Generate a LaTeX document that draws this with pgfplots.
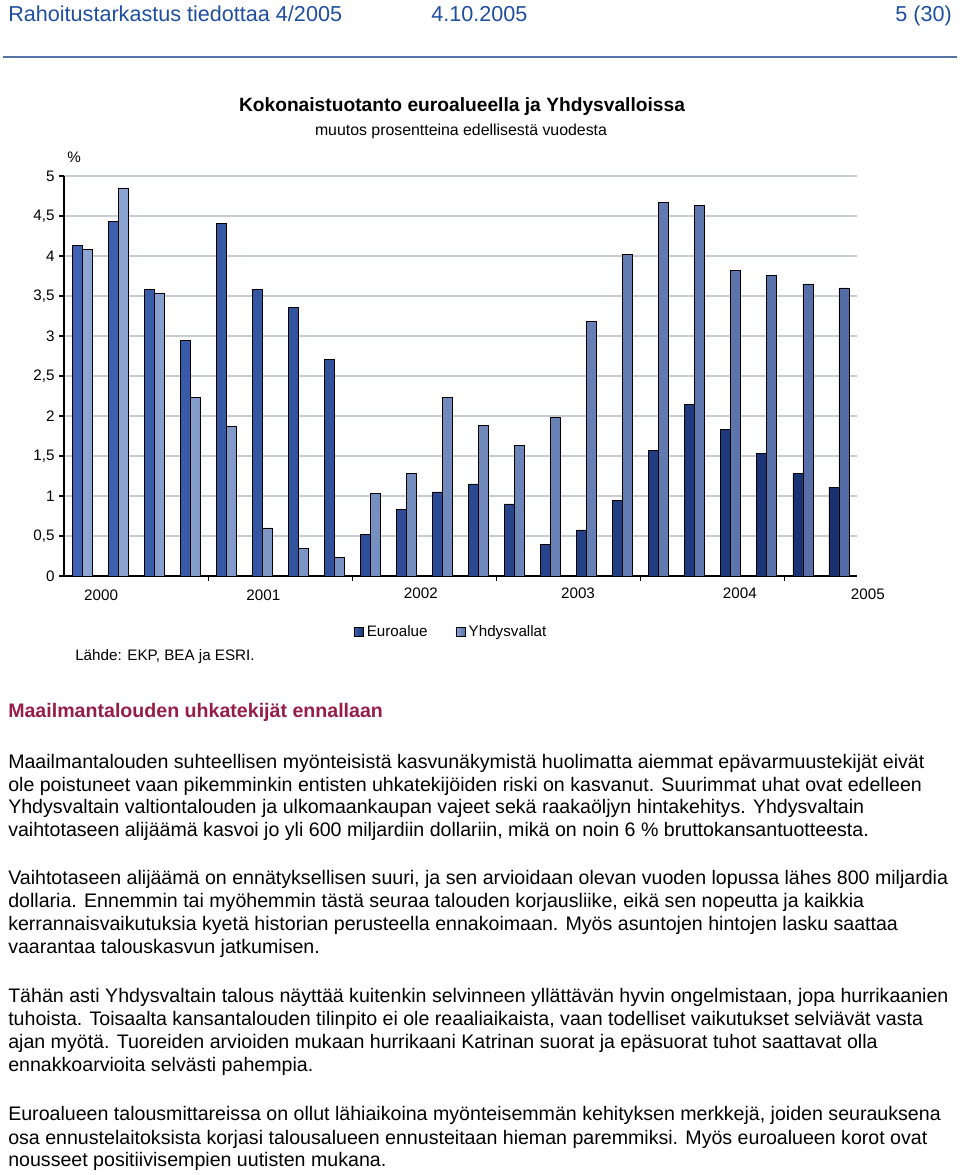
\documentclass[border=0pt]{standalone}
\usepackage{pgfplots}
\pgfplotsset{compat=1.18}
\usepackage{fontspec}
\setmainfont{Liberation Sans}
\definecolor{hdrblue}{RGB}{31,78,160}
\definecolor{rulec}{RGB}{90,115,165}
\definecolor{headred}{RGB}{150,30,70}
\definecolor{euroL}{RGB}{62,98,178}
\definecolor{euroR}{RGB}{24,48,112}
\definecolor{usL}{RGB}{140,165,210}
\definecolor{usR}{RGB}{84,108,165}
\definecolor{gridc}{RGB}{200,205,212}
\newcommand\bodyfont{\fontsize{14.7pt}{17pt}\selectfont}
\newcommand\chartfont{\fontsize{11.4pt}{13pt}\selectfont}
\begin{document}
\begin{tikzpicture}
\useasboundingbox (0,0) rectangle (720pt,881.25pt);
\begin{axis}[
  at={(48pt,449.25pt)}, anchor=south west,
  scale only axis, width=594.75pt, height=300pt,
  xmin=0, xmax=22, ymin=0, ymax=5,
  ybar=0pt, bar width=7.5pt,
  axis x line*=bottom, axis y line*=left,
  axis line style={-, black, line width=0.8pt},
  ytick={0,0.5,...,5},
  xtick={4,8,12,16,20}, xticklabels={},
  tick align=outside, major tick length=3.5pt,
  tick style={black, line width=0.8pt},
  ymajorgrids, grid style={gridc, line width=0.9pt},
  yticklabel style={font=\chartfont, /pgf/number format/.cd, use comma, fixed, assume math mode=true},
  clip=false,
  legend image code/.code={\draw[#1,/tikz/.cd,line width=0.6pt] (0pt,-3.6pt) rectangle (7.2pt,3.6pt);},
  legend style={at={(0.3650,-0.14)}, anchor=west, draw=none, fill=none, inner sep=0pt,
    legend columns=2, font=\chartfont, /tikz/every even column/.append style={column sep=19pt}},
  legend cell align=left,
]
\addplot[draw=black, line width=0.6pt, left color=euroL, right color=euroR] coordinates {
(0.5,4.13) (1.5,4.43) (2.5,3.58) (3.5,2.94) (4.5,4.41) (5.5,3.58) (6.5,3.36) (7.5,2.71)
(8.5,0.52) (9.5,0.83) (10.5,1.05) (11.5,1.15) (12.5,0.90) (13.5,0.39) (14.5,0.575) (15.5,0.94)
(16.5,1.57) (17.5,2.14) (18.5,1.83) (19.5,1.53) (20.5,1.28) (21.5,1.11)};
\addplot[draw=black, line width=0.6pt, left color=usL, right color=usR] coordinates {
(0.5,4.08) (1.5,4.85) (2.5,3.53) (3.5,2.23) (4.5,1.87) (5.5,0.60) (6.5,0.35) (7.5,0.23)
(8.5,1.03) (9.5,1.28) (10.5,2.23) (11.5,1.88) (12.5,1.63) (13.5,1.98) (14.5,3.18) (15.5,4.02)
(16.5,4.67) (17.5,4.63) (18.5,3.82) (19.5,3.76) (20.5,3.65) (21.5,3.60)};
\legend{Euroalue, Yhdysvallat}
\node[font=\chartfont] at (axis cs:1.03,0) [yshift=-14.5pt] {2000};
\node[font=\chartfont] at (axis cs:5.53,0) [yshift=-14.5pt] {2001};
\node[font=\chartfont] at (axis cs:9.90,0) [yshift=-13pt] {2002};
\node[font=\chartfont] at (axis cs:14.26,0) [yshift=-13pt] {2003};
\node[font=\chartfont] at (axis cs:18.75,0) [yshift=-13pt] {2004};
\node[font=\chartfont] at (axis cs:22.30,0) [yshift=-13.5pt] {2005};
\end{axis}
\begin{scope}[shift={(0pt,881.25pt)}, x=0.75pt, y=-0.75pt]
% header
\node[anchor=base west, inner sep=0pt, text=hdrblue, font=\fontsize{16.2pt}{18pt}\selectfont] at (8,22) {Rahoitustarkastus tiedottaa 4/2005};
\node[anchor=base west, inner sep=0pt, text=hdrblue, font=\fontsize{16.2pt}{18pt}\selectfont] at (431,22) {4.10.2005};
\node[anchor=base east, inner sep=0pt, text=hdrblue, font=\fontsize{16.2pt}{18pt}\selectfont] at (952,22) {5 (30)};
\draw[rulec, line width=1pt] (3,57) -- (957,57);
% chart titles
\node[anchor=base, inner sep=0pt, font=\bfseries\fontsize{14.4pt}{16pt}\selectfont] at (462,112) {Kokonaistuotanto euroalueella ja Yhdysvalloissa};
\node[anchor=base, inner sep=0pt, font=\fontsize{11.9pt}{13pt}\selectfont] at (461,136) {muutos prosentteina edellisestä vuodesta};
\node[anchor=base west, inner sep=0pt, font=\chartfont] at (67,163) {\%};
\node[anchor=base west, inner sep=0pt, font=\chartfont] at (75,661) {Lähde: EKP, BEA ja ESRI.};
% heading
\node[anchor=base west, inner sep=0pt, text=headred, font=\bfseries\bodyfont] at (8,718) {Maailmantalouden uhkatekijät ennallaan};
% body
\begin{scope}[every node/.style={anchor=base west, inner sep=0pt, font=\bodyfont}]
\node at (8,769) {Maailmantalouden suhteellisen myönteisistä kasvunäkymistä huolimatta aiemmat epävarmuustekijät eivät};
\node at (8,792) {ole poistuneet vaan pikemminkin entisten uhkatekijöiden riski on kasvanut. Suurimmat uhat ovat edelleen};
\node at (8,814) {Yhdysvaltain valtiontalouden ja ulkomaankaupan vajeet sekä raakaöljyn hintakehitys. Yhdysvaltain};
\node at (8,837) {vaihtotaseen alijäämä kasvoi jo yli 600 miljardiin dollariin, mikä on noin 6 \% bruttokansantuotteesta.};
\node at (8,885) {Vaihtotaseen alijäämä on ennätyksellisen suuri, ja sen arvioidaan olevan vuoden lopussa lähes 800 miljardia};
\node at (8,908) {dollaria. Ennemmin tai myöhemmin tästä seuraa talouden korjausliike, eikä sen nopeutta ja kaikkia};
\node at (8,931) {kerrannaisvaikutuksia kyetä historian perusteella ennakoimaan. Myös asuntojen hintojen lasku saattaa};
\node at (8,954) {vaarantaa talouskasvun jatkumisen.};
\node at (8,1003) {Tähän asti Yhdysvaltain talous näyttää kuitenkin selvinneen yllättävän hyvin ongelmistaan, jopa hurrikaanien};
\node at (8,1026) {tuhoista. Toisaalta kansantalouden tilinpito ei ole reaaliaikaista, vaan todelliset vaikutukset selviävät vasta};
\node at (8,1049) {ajan myötä. Tuoreiden arvioiden mukaan hurrikaani Katrinan suorat ja epäsuorat tuhot saattavat olla};
\node at (8,1072) {ennakkoarvioita selvästi pahempia.};
\node at (8,1121) {Euroalueen talousmittareissa on ollut lähiaikoina myönteisemmän kehityksen merkkejä, joiden seurauksena};
\node at (8,1144) {osa ennustelaitoksista korjasi talousalueen ennusteitaan hieman paremmiksi. Myös euroalueen korot ovat};
\node at (8,1167) {nousseet positiivisempien uutisten mukana.};
\end{scope}
\end{scope}
\end{tikzpicture}
\end{document}
